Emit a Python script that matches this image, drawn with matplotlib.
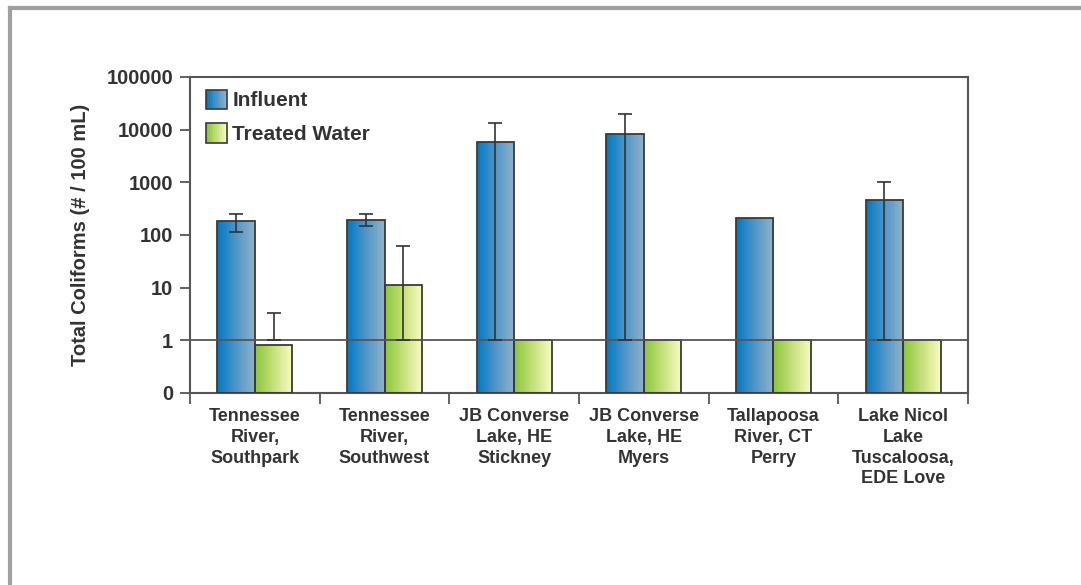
import numpy as np
import matplotlib
matplotlib.use("Agg")
import matplotlib.pyplot as plt
from matplotlib.colors import LinearSegmentedColormap
from matplotlib.legend_handler import HandlerBase
from matplotlib.patches import Rectangle
from matplotlib.ticker import FixedLocator, NullFormatter

# data
sites = ["Tennessee\nRiver,\nSouthpark", "Tennessee\nRiver,\nSouthwest",
         "JB Converse\nLake, HE\nStickney", "JB Converse\nLake, HE\nMyers",
         "Tallapoosa\nRiver, CT\nPerry", "Lake Nicol\nLake\nTuscaloosa,\nEDE Love"]
influent = [182, 196, 5800, 8400, 210, 470]
influent_err_lo = [116, 150, 1, 1, None, 1]
influent_err_hi = [250, 250, 13200, 20000, None, 1010]
treated = [0.83, 11.4, 1.0, 1.0, 1.0, 1.0]
treated_err_lo = [1, 1, None, None, None, None]
treated_err_hi = [3.3, 61, None, None, None, None]
ytick_vals = [0.1, 1, 10, 100, 1000, 10000, 100000]
ytick_labels = ["0", "1", "10", "100", "1000", "10000", "100000"]

text_col = "#333333"
blue_cmap = LinearSegmentedColormap.from_list("blue", ["#0479c2", "#4f95c8", "#8eb0c6"])
green_cmap = LinearSegmentedColormap.from_list("green", ["#8cc63f", "#c6e07a", "#f6f9c2"])

plt.rcParams["font.family"] = ["Liberation Sans", "DejaVu Sans"]
plt.rcParams["font.weight"] = "bold"

fig = plt.figure(figsize=(10.81, 5.85), dpi=100)
ax = fig.add_axes([190 / 1081, 1 - 393 / 585, 778 / 1081, 316 / 585])

# grey frame round the picture (top and left only, as in the reference)
fig.add_artist(plt.Line2D([10 / 1081, 1], [1 - 8 / 585] * 2, transform=fig.transFigure,
                          color="#a0a0a0", lw=3))
fig.add_artist(plt.Line2D([10 / 1081] * 2, [0, 1 - 8 / 585], transform=fig.transFigure,
                          color="#a0a0a0", lw=3))

x = np.arange(len(sites))
w = 0.29
n_slices = 24


def gradient_bar(xc, top, cmap):
    # many thin slices give the horizontal gradient of the fill
    edges = np.linspace(xc - w / 2, xc + w / 2, n_slices + 1)
    for i in range(n_slices):
        ax.bar(edges[i], top, width=edges[i + 1] - edges[i], bottom=0.1, align="edge",
               color=cmap(i / (n_slices - 1)), linewidth=0, zorder=2)
    ax.bar(xc, top, width=w, bottom=0.1, fill=False, edgecolor="#3a3a3a",
           linewidth=1.3, zorder=3)


for i in range(len(sites)):
    gradient_bar(x[i] - w / 2, influent[i] - 0.1, blue_cmap)
    gradient_bar(x[i] + w / 2, treated[i] - 0.1, green_cmap)

# error bars: drawn from low end to high end with caps on both ends
for xs, lo, hi in [(x - w / 2, influent_err_lo, influent_err_hi),
                   (x + w / 2, treated_err_lo, treated_err_hi)]:
    for xi, l, h in zip(xs, lo, hi):
        if l is None:
            continue
        ax.errorbar(xi, l, yerr=[[0], [h - l]], fmt="none", ecolor="#333333",
                    elinewidth=1.2, capsize=5, capthick=1.2, zorder=5)

# reference line at 1
ax.axhline(1, color="#555555", lw=1.3, zorder=4)

ax.set_yscale("log")
ax.set_ylim(0.1, 100000)
ax.set_xlim(-0.5, len(sites) - 0.5)
ax.yaxis.set_major_locator(FixedLocator(ytick_vals))
ax.yaxis.set_minor_locator(FixedLocator([]))
ax.set_yticklabels(ytick_labels)
ax.tick_params(axis="y", which="major", direction="out", length=7, width=1.3,
               color="#555555", labelsize=14.5, labelcolor=text_col, pad=5)

ax.set_xticks(x)
ax.set_xticklabels(sites, fontsize=13, color=text_col, linespacing=1.28)
ax.xaxis.set_minor_locator(FixedLocator(np.arange(-0.5, len(sites), 1)))
ax.xaxis.set_minor_formatter(NullFormatter())
ax.tick_params(axis="x", which="major", length=0, pad=11)
ax.tick_params(axis="x", which="minor", direction="out", length=8, width=1.3, color="#555555")

for s in ax.spines.values():
    s.set_color("#555555")
    s.set_linewidth(1.5)

ax.set_ylabel("Total Coliforms (# / 100 mL)", fontsize=14.5, fontweight="bold",
              color=text_col, labelpad=12)


class GradientHandler(HandlerBase):
    def __init__(self, cmap):
        super().__init__()
        self.cmap = cmap

    def create_artists(self, legend, orig_handle, xdescent, ydescent, width, height,
                       fontsize, trans):
        arts = []
        k = 12
        for i in range(k):
            arts.append(Rectangle((-xdescent + width * i / k, -ydescent), width / k, height,
                                  facecolor=self.cmap(i / (k - 1)), linewidth=0,
                                  transform=trans))
        arts.append(Rectangle((-xdescent, -ydescent), width, height, fill=False,
                              edgecolor="#3a3a3a", linewidth=1.2, transform=trans))
        return arts


h_inf = Rectangle((0, 0), 1, 1)
h_tr = Rectangle((0, 0), 1, 1)
leg = ax.legend([h_inf, h_tr], ["Influent", "Treated Water"],
                handler_map={h_inf: GradientHandler(blue_cmap), h_tr: GradientHandler(green_cmap)},
                loc="upper left", bbox_to_anchor=(0.005, 1.0), frameon=False,
                fontsize=15, handlelength=1.0, handleheight=1.05, handletextpad=0.25,
                labelspacing=0.62, borderaxespad=0.2, labelcolor=text_col)

fig.savefig("out.png", dpi=100)
